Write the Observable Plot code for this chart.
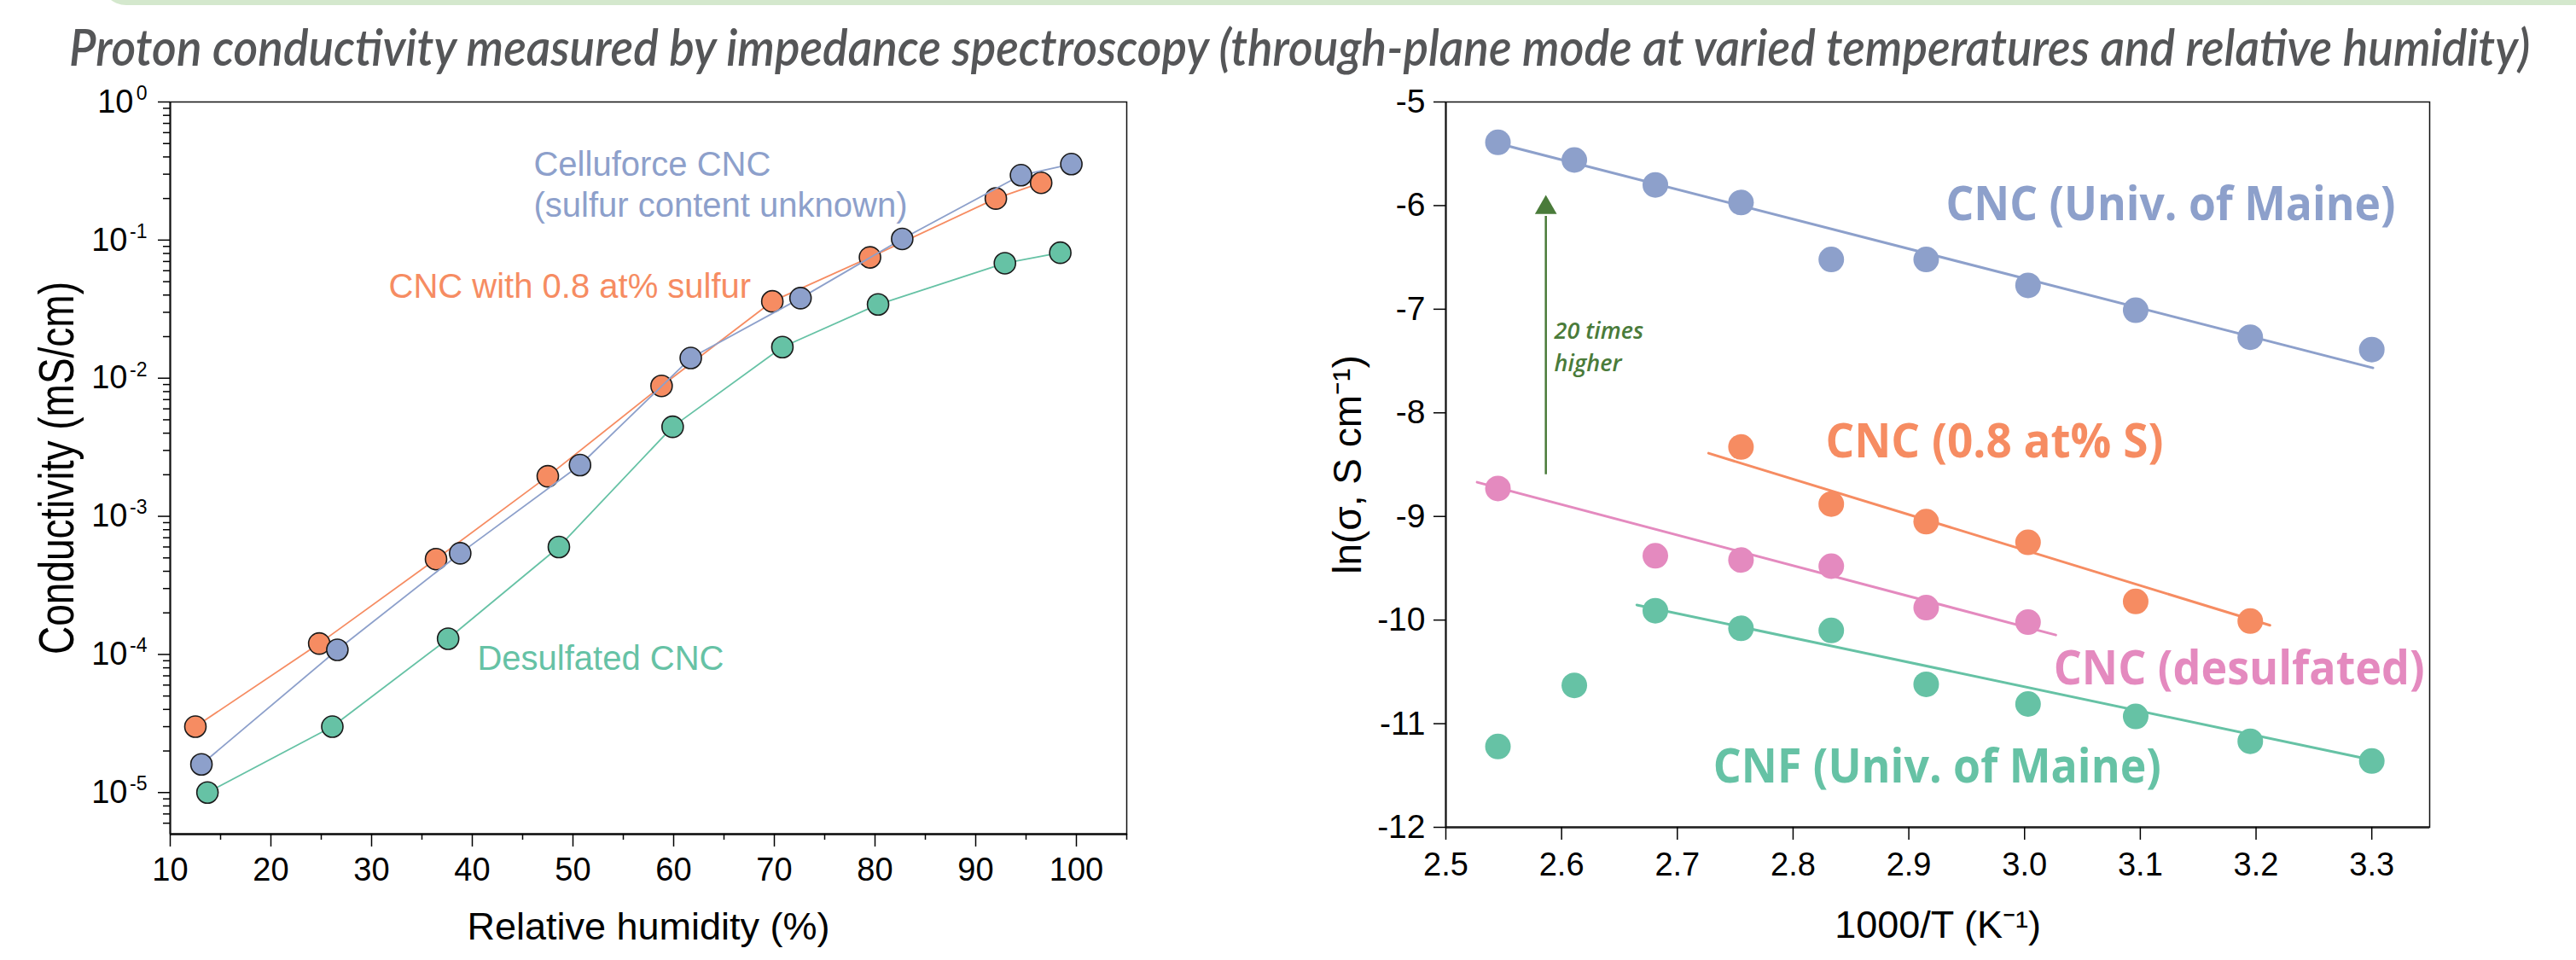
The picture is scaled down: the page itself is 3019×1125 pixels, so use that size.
<!DOCTYPE html>
<html>
<head>
<meta charset="utf-8">
<script src="https://cdn.jsdelivr.net/npm/d3@7"></script>
<script src="https://cdn.jsdelivr.net/npm/@observablehq/plot@0.6"></script>
<style>
  html, body { margin: 0; padding: 0; background: #fff; }
  body { width: 3019px; height: 1125px; position: relative; overflow: hidden; font-family: "Liberation Sans", Arial, sans-serif; }
  #band { position: absolute; left: 118px; top: -40px; width: 3000px; height: 46px; background: #d4e8cd; border-radius: 0 0 0 30px; }
  #title { position: absolute; left: 0; top: 0; }
  #left { position: absolute; left: 0; top: 100px; }
  #right { position: absolute; left: 1450px; top: 100px; }
</style>
</head>
<body>
<div id="band"></div>
<svg id="title" width="3019" height="100"></svg>
<div id="left"></div>
<div id="right"></div>
<script>
// ---------- Text ----------
const titleText = "Proton conductivity measured by impedance spectroscopy (through-plane mode at varied temperatures and relative humidity)";

// ---------- Left panel data: conductivity vs relative humidity ----------
const rhOrange   = [12.5, 24.8, 36.4, 47.5, 58.8, 69.8, 79.5, 92.0, 96.5];
const condOrange = [3.0e-5, 1.2e-4, 4.9e-4, 1.95e-3, 8.8e-3, 0.036, 0.075, 0.20, 0.26];
const rhBlue     = [13.1, 26.6, 38.8, 50.7, 61.7, 72.6, 82.7, 94.5, 99.5];
const condBlue   = [1.6e-5, 1.08e-4, 5.4e-4, 2.35e-3, 0.014, 0.038, 0.102, 0.295, 0.355];
const rhGreen    = [13.7, 26.1, 37.6, 48.6, 59.9, 70.8, 80.3, 92.9, 98.4];
const condGreen  = [1.0e-5, 3.0e-5, 1.3e-4, 6.0e-4, 4.45e-3, 0.0168, 0.0342, 0.068, 0.081];

const leftXTicks = [10, 20, 30, 40, 50, 60, 70, 80, 90, 100];
const leftXMinor = [15, 25, 35, 45, 55, 65, 75, 85, 95, 105];
const leftYTicks = [1e-5, 1e-4, 1e-3, 1e-2, 1e-1, 1];

const leftLabelText = ["Celluforce CNC\n(sulfur content unknown)", "CNC with 0.8 at% sulfur", "Desulfated CNC"];
const leftLabelRH   = [46.1, 31.7, 40.5];
const leftLabelCond = [0.474, 0.0619, 1.26e-4];

// ---------- Right panel data: ln(sigma) vs 1000/T ----------
const invT      = [2.545, 2.611, 2.681, 2.755, 2.833, 2.915, 3.003, 3.096, 3.195, 3.300];
const lnMaine   = [-5.39, -5.56, -5.80, -5.97, -6.52, -6.52, -6.77, -7.01, -7.27, -7.39];
const lnSulfur  = [null, null, null, -8.33, -8.88, -9.05, -9.25, -9.82, -10.01, null];
const lnDesulf  = [-8.73, null, -9.38, -9.42, -9.48, -9.88, -10.02, null, null, null];
const lnCNF     = [-11.22, -10.63, -9.91, -10.08, -10.10, -10.62, -10.81, -10.93, -11.17, -11.36];

// fitted lines (end points)
const fitMaineX  = [2.545, 3.301], fitMaineY  = [-5.40, -7.566];
const fitSulfurX = [2.727, 3.212], fitSulfurY = [-8.39, -10.05];
const fitDesulfX = [2.527, 3.027], fitDesulfY = [-8.67, -10.144];
const fitCNFX    = [2.665, 3.300], fitCNFY    = [-9.854, -11.35];

const rightXTicks = [2.5, 2.6, 2.7, 2.8, 2.9, 3.0, 3.1, 3.2, 3.3];
const rightYTicks = [-12, -11, -10, -9, -8, -7, -6, -5];

const rightLabelText = ["CNC (Univ. of Maine)", "CNC (0.8 at% S)", "CNC (desulfated)", "CNF (Univ. of Maine)"];
const rightLabelX    = [2.932, 2.828, 3.025, 2.731];
const rightLabelY    = [-5.818, -8.106, -10.301, -11.25];

// annotation: "20 times higher"
const arrowX = [2.5864], arrowFrom = [-8.592], arrowTo = [-6.10], arrowTip = [-6.02];
const noteText = ["20 times\nhigher"], noteX = [2.5937], noteY = [-7.06];

// ---------- Colours ----------
const cBlue = "#8da0cb", cOrange = "#f68c62", cGreen = "#66c2a5", cPink = "#e48abf", cNote = "#4a7b3a";

// ---------- Helpers ----------
const zip = (xs, ys) => xs.map((x, i) => ({x, y: ys[i]})).filter(d => d.y != null);
const expOf = d => Math.round(Math.log10(d));
const supMap = {"-": "\u207B", "1": "\u00B9"};
const sup = s => String(s).split("").map(c => supMap[c]).join("");

const leftYMinor = [];
for (let k = -6; k < 0; k++) for (let m = 2; m <= 9; m++) { const v = m * Math.pow(10, k); if (v >= 5e-6 && v < 1) leftYMinor.push(v); }

// ---------- Title ----------
{
  const svg = d3.select("#title");
  const t = svg.append("text")
    .attr("x", 0).attr("y", 0)
    .attr("font-family", "Lato, 'Open Sans', sans-serif")
    .attr("font-style", "italic").attr("font-weight", 600)
    .attr("font-size", 60).attr("fill", "#555658")
    .text(titleText);
  const L = t.node().getComputedTextLength();
  const fs = 60 * 2885 / L;
  t.attr("font-size", fs).attr("transform", `translate(81,77) scale(1,${(60 / fs).toFixed(4)})`);
}

// ---------- Left panel ----------
const leftDomainX = [10, 105], leftDomainY = [5e-6, 1];
const orange = zip(rhOrange, condOrange), blue = zip(rhBlue, condBlue), green = zip(rhGreen, condGreen);
const leftLabels = leftLabelText.map((t, i) => ({t, x: leftLabelRH[i], y: leftLabelCond[i], c: [cBlue, cOrange, cGreen][i]}));

const left = Plot.plot({
  width: 1400, height: 1025,
  marginLeft: 199, marginRight: 80, marginTop: 19, marginBottom: 148,
  style: {fontFamily: "'Liberation Sans', Arial, sans-serif", background: "transparent", color: "#000", overflow: "visible"},
  x: {domain: leftDomainX},
  y: {type: "log", domain: leftDomainY},
  marks: [
    Plot.frame({stroke: "#111", strokeWidth: 1.5}),
    Plot.ruleY([leftDomainY[0]], {stroke: "#111", strokeWidth: 2.5}),
    Plot.ruleX([leftDomainX[0]], {stroke: "#111", strokeWidth: 2}),
    Plot.axisX({ticks: leftXMinor, tickSize: 7, tickFormat: () => "", label: null, strokeWidth: 1.5}),
    Plot.axisX({ticks: leftXTicks, tickSize: 15, tickPadding: 13, fontSize: 38, label: null, strokeWidth: 1.5}),
    Plot.axisY({ticks: leftYMinor, tickSize: 8, tickFormat: () => "", label: null, strokeWidth: 1.5}),
    Plot.axisY({ticks: leftYTicks, tickSize: 14, tickFormat: () => "", label: null, strokeWidth: 1.5}),
    // tick labels 10^k : base "10" plus a raised exponent, right-aligned together
    Plot.text(leftYTicks.filter(d => expOf(d) === 0), {frameAnchor: "left", y: d => d, text: () => "10", dx: -43, textAnchor: "end", lineAnchor: "middle", fontSize: 38}),
    Plot.text(leftYTicks.filter(d => expOf(d) !== 0), {frameAnchor: "left", y: d => d, text: () => "10", dx: -50, textAnchor: "end", lineAnchor: "middle", fontSize: 38}),
    Plot.text(leftYTicks, {frameAnchor: "left", y: d => d, text: d => String(expOf(d)), dx: -27, dy: -10, textAnchor: "end", lineAnchor: "middle", fontSize: 23}),
    Plot.line(orange, {x: "x", y: "y", stroke: cOrange, strokeWidth: 1.8}),
    Plot.dot(orange, {x: "x", y: "y", r: 12.5, fill: cOrange, stroke: "#1a1a1a", strokeWidth: 1.6}),
    Plot.line(blue, {x: "x", y: "y", stroke: cBlue, strokeWidth: 1.8}),
    Plot.dot(blue, {x: "x", y: "y", r: 12.5, fill: cBlue, stroke: "#1a1a1a", strokeWidth: 1.6}),
    Plot.line(green, {x: "x", y: "y", stroke: cGreen, strokeWidth: 1.8}),
    Plot.dot(green, {x: "x", y: "y", r: 12.5, fill: cGreen, stroke: "#1a1a1a", strokeWidth: 1.6}),
    Plot.text(leftLabels, {x: "x", y: "y", text: "t", fill: "c", textAnchor: "start", lineAnchor: "top", fontSize: 40, lineHeight: 1.2}),
    Plot.text(["Conductivity (mS/cm)"], {frameAnchor: "left", dx: -132, rotate: -90, fontSize: 46, textAnchor: "middle", lineAnchor: "middle", fill: "#000"}),
    Plot.text(["Relative humidity (%)"], {frameAnchor: "bottom", dy: 92, lineAnchor: "top", fontSize: 45, fill: "#000"})
  ]
});
document.getElementById("left").appendChild(left);
// the reference's y title is drawn with taller glyphs
d3.select(left).selectAll("text").each(function () {
  if (this.textContent === "Conductivity (mS/cm)") {
    const tr = this.getAttribute("transform") || "";
    this.setAttribute("transform", tr + " scale(1,1.25)");
  }
});

// ---------- Right panel ----------
const rightDomainX = [2.5, 3.35], rightDomainY = [-12, -5];
const maine = zip(invT, lnMaine), sulfur = zip(invT, lnSulfur), desulf = zip(invT, lnDesulf), cnf = zip(invT, lnCNF);
const fits = [
  {xs: fitMaineX, ys: fitMaineY, c: cBlue},
  {xs: fitSulfurX, ys: fitSulfurY, c: cOrange},
  {xs: fitDesulfX, ys: fitDesulfY, c: cPink},
  {xs: fitCNFX, ys: fitCNFY, c: cGreen}
];
const rightLabels = rightLabelText.map((t, i) => ({t, x: rightLabelX[i], y: rightLabelY[i], c: [cBlue, cOrange, cPink, cGreen][i]}));
const arrow = arrowX.map((x, i) => ({x, y1: arrowFrom[i], y2: arrowTo[i], tip: arrowTip[i]}));
const note = noteText.map((t, i) => ({t, x: noteX[i], y: noteY[i]}));

const right = Plot.plot({
  width: 1569, height: 1025,
  marginLeft: 244, marginRight: 172, marginTop: 19, marginBottom: 156,
  style: {fontFamily: "'Liberation Sans', Arial, sans-serif", background: "transparent", color: "#000", overflow: "visible"},
  x: {domain: rightDomainX},
  y: {domain: rightDomainY},
  marks: [
    Plot.frame({stroke: "#111", strokeWidth: 1.5}),
    Plot.ruleY([rightDomainY[0]], {stroke: "#222", strokeWidth: 2.5}),
    Plot.ruleX([rightDomainX[0]], {stroke: "#111", strokeWidth: 2}),
    Plot.axisX({ticks: rightXTicks, tickSize: 15, tickPadding: 15, fontSize: 38, label: null, strokeWidth: 1.5, tickFormat: d3.format(".1f")}),
    Plot.axisY({ticks: rightYTicks, tickSize: 14, tickPadding: 10, fontSize: 39, label: null, strokeWidth: 1.5, tickFormat: d => String(d)}),
    ...fits.map(f => Plot.line(zip(f.xs, f.ys), {x: "x", y: "y", stroke: f.c, strokeWidth: 3})),
    Plot.dot(maine, {x: "x", y: "y", r: 15, fill: cBlue}),
    Plot.dot(sulfur, {x: "x", y: "y", r: 15, fill: cOrange}),
    Plot.dot(desulf, {x: "x", y: "y", r: 15, fill: cPink}),
    Plot.dot(cnf, {x: "x", y: "y", r: 15, fill: cGreen}),
    Plot.link(arrow, {x1: "x", x2: "x", y1: "y1", y2: "y2", stroke: cNote, strokeWidth: 2.5}),
    Plot.dot(arrow, {x: "x", y: "tip", symbol: "triangle", r: 9.5, fill: cNote, stroke: "none"}),
    Plot.text(note, {x: "x", y: "y", text: "t", fill: cNote, textAnchor: "start", lineAnchor: "top", fontSize: 27, fontStyle: "italic", fontWeight: 600, fontFamily: "'Open Sans', sans-serif", lineHeight: 1.42}),
    Plot.text(rightLabels, {x: "x", y: "y", text: "t", fill: "c", textAnchor: "start", lineAnchor: "top", fontSize: 55, fontWeight: 700, fontFamily: "'Open Sans', sans-serif"}),
    Plot.text(["ln(\u03C3, S cm" + sup("-1") + ")"], {frameAnchor: "left", dx: -114, rotate: -90, fontSize: 46, textAnchor: "middle", lineAnchor: "middle", fill: "#000"}),
    Plot.text(["1000/T (K" + sup("-1") + ")"], {frameAnchor: "bottom", dy: 98, lineAnchor: "top", fontSize: 45, fill: "#000"})
  ]
});
document.getElementById("right").appendChild(right);

// condense the bold series labels to the widths they take in the reference
const labelWidths = {"CNC (Univ. of Maine)": 527, "CNC (0.8 at% S)": 396, "CNC (desulfated)": 435, "CNF (Univ. of Maine)": 525};
d3.select(right).selectAll("text").each(function () {
  const w = labelWidths[this.textContent];
  if (w) { this.setAttribute("textLength", w); this.setAttribute("lengthAdjust", "spacingAndGlyphs"); }
});
</script>
</body>
</html>
